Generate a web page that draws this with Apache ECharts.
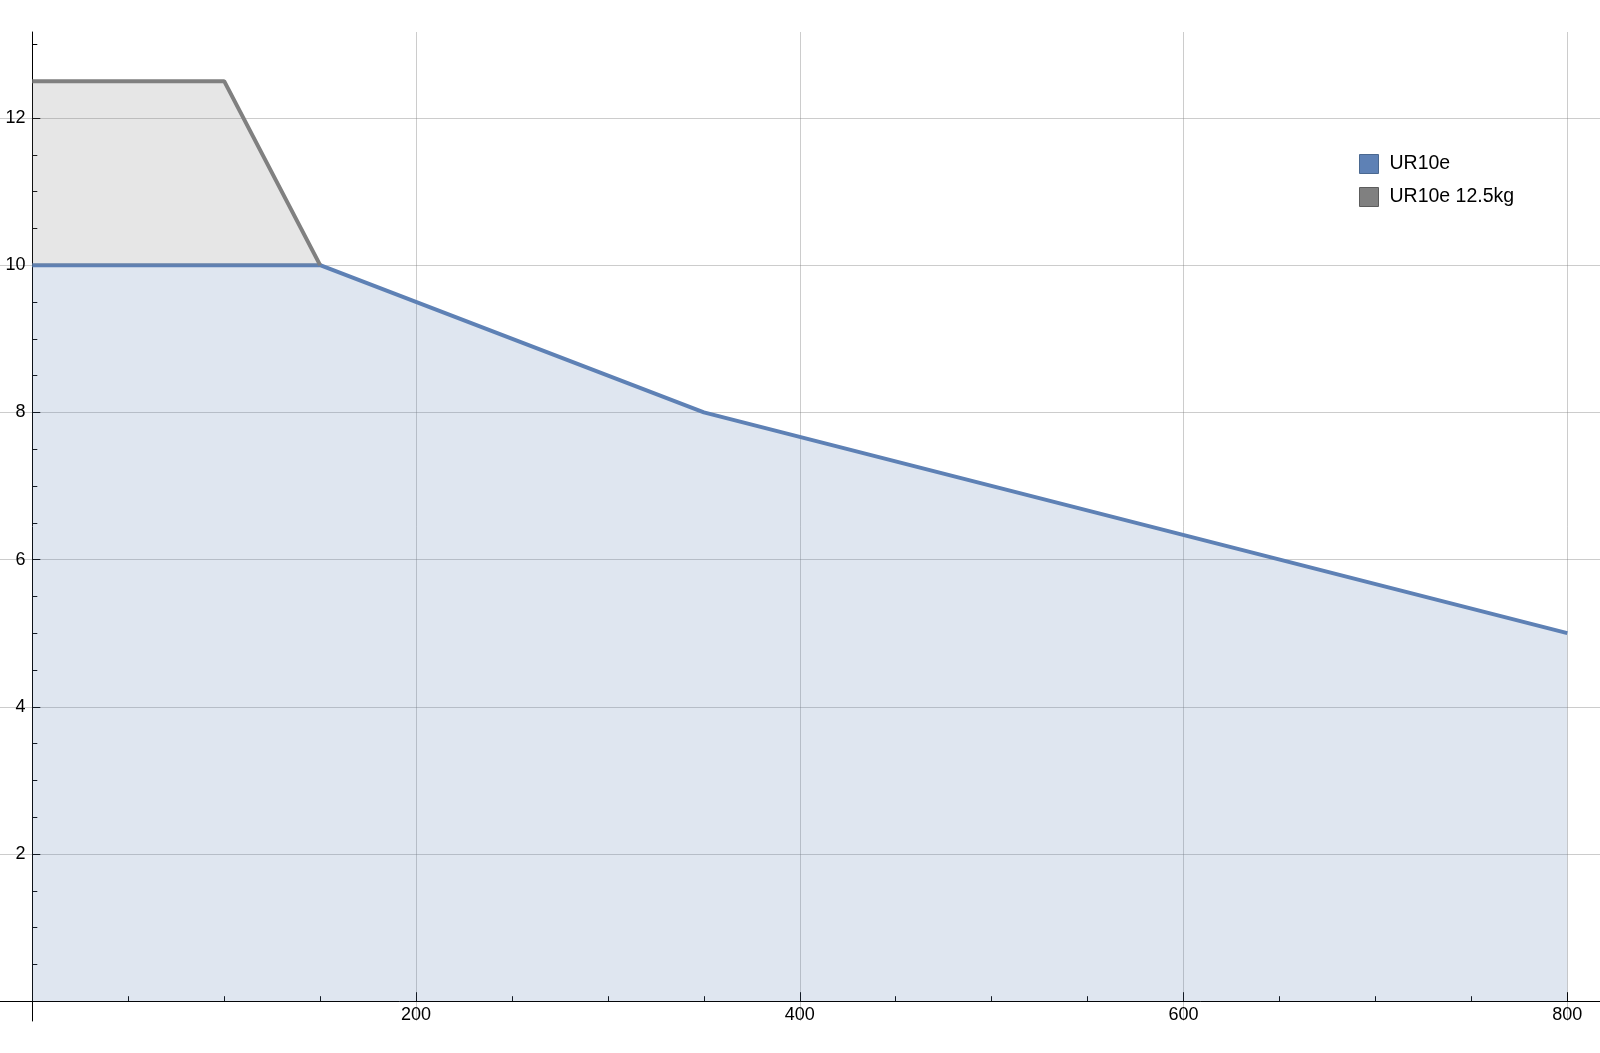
<!DOCTYPE html>
<html>
<head>
<meta charset="utf-8">
<script src="https://cdn.jsdelivr.net/npm/echarts@6/dist/echarts.min.js"></script>
<style>
html,body{margin:0;padding:0;background:#fff;}
#chart{width:1600px;height:1053px;}
</style>
</head>
<body>
<div id="chart"></div>
<script>
// Data
const ur10eX = [0, 150, 350, 800];
const ur10eY = [10, 10, 8, 5];
const ur10e125X = [0, 100, 150];
const ur10e125Y = [12.5, 12.5, 10];
const seriesNames = ['UR10e', 'UR10e 12.5kg'];

// Tick values
const xMajorTicks = [200, 400, 600, 800];
const xMinorTicks = [50, 100, 150, 250, 300, 350, 450, 500, 550, 650, 700, 750];
const yMajorTicks = [2, 4, 6, 8, 10, 12];
const yMinorTicks = [0.5, 1, 1.5, 2.5, 3, 3.5, 4.5, 5, 5.5, 6.5, 7, 7.5, 8.5, 9, 9.5, 10.5, 11, 11.5, 12.5, 13];

// Axis ranges (plot region spans beyond the data, Mathematica-style)
const xRange = [-16.834, 817.04];
const yRange = [-0.269, 13.168];

const blue = '#5e81b5';
const gray = '#808080';
const gridColor = 'rgba(128,128,128,0.4)';
const font = 'Liberation Sans, Arial, sans-serif';

const chart = echarts.init(document.getElementById('chart'), null, {renderer: 'canvas'});

const pair = (xs, ys) => xs.map((x, i) => [x, ys[i]]);

chart.setOption({
  animation: false,
  backgroundColor: '#ffffff',
  grid: {left: 0, right: 0, top: 32, bottom: 32, containLabel: false, outerBoundsMode: 'none'},
  legend: {
    orient: 'vertical',
    left: 1354,
    top: 149,
    itemWidth: 19,
    itemHeight: 19,
    itemGap: 13,
    icon: 'rect',
    selectedMode: false,
    textStyle: {fontSize: 19.5, color: '#000', fontFamily: font, padding: [0, 0, 0, 6]},
    data: [
      {name: seriesNames[0], icon: 'rect', itemStyle: {color: blue, borderColor: '#4a6890', borderWidth: 1}},
      {name: seriesNames[1], icon: 'rect', itemStyle: {color: gray, borderColor: '#5c5c5c', borderWidth: 1}}
    ]
  },
  xAxis: [
    {
      type: 'value', min: xRange[0], max: xRange[1], position: 'bottom',
      axisLine: {show: true, onZero: true, onZeroAxisIndex: 0, lineStyle: {color: '#000', width: 1}},
      axisTick: {show: true, inside: true, length: 9, customValues: xMajorTicks, lineStyle: {color: '#000', width: 1}},
      axisLabel: {show: true, customValues: xMajorTicks, margin: -15, color: '#000', fontSize: 18, fontFamily: font},
      splitLine: {show: true, lineStyle: {color: gridColor, width: 1}}
    },
    {
      type: 'value', min: xRange[0], max: xRange[1], position: 'bottom',
      axisLine: {show: false, onZero: true, onZeroAxisIndex: 0},
      axisTick: {show: true, inside: true, length: 5, customValues: xMinorTicks, lineStyle: {color: '#000', width: 1}},
      axisLabel: {show: false},
      splitLine: {show: false}
    }
  ],
  yAxis: [
    {
      type: 'value', min: yRange[0], max: yRange[1], position: 'left',
      axisLine: {show: true, onZero: true, onZeroAxisIndex: 0, lineStyle: {color: '#000', width: 1}},
      axisTick: {show: true, inside: true, length: 8, customValues: yMajorTicks, lineStyle: {color: '#000', width: 1}},
      axisLabel: {show: true, customValues: yMajorTicks, margin: -25.5, color: '#000', fontSize: 18, fontFamily: font},
      splitLine: {show: true, lineStyle: {color: gridColor, width: 1}}
    },
    {
      type: 'value', min: yRange[0], max: yRange[1], position: 'left',
      axisLine: {show: false, onZero: true, onZeroAxisIndex: 0},
      axisTick: {show: true, inside: true, length: 5, customValues: yMinorTicks, lineStyle: {color: '#000', width: 1}},
      axisLabel: {show: false},
      splitLine: {show: false}
    }
  ],
  series: [
    {
      name: seriesNames[0], type: 'line', xAxisIndex: 0, yAxisIndex: 0,
      data: pair(ur10eX, ur10eY),
      showSymbol: false, symbol: 'none',
      lineStyle: {color: blue, width: 4},
      itemStyle: {color: blue},
      areaStyle: {color: blue, opacity: 0.2, origin: 0},
      z: 2
    },
    {
      name: seriesNames[1], type: 'line', xAxisIndex: 0, yAxisIndex: 0,
      data: pair(ur10e125X, ur10e125Y),
      showSymbol: false, symbol: 'none',
      lineStyle: {color: gray, width: 4},
      itemStyle: {color: gray},
      areaStyle: {color: gray, opacity: 0.2, origin: 10},
      z: 3
    }
  ]
});
</script>
</body>
</html>
